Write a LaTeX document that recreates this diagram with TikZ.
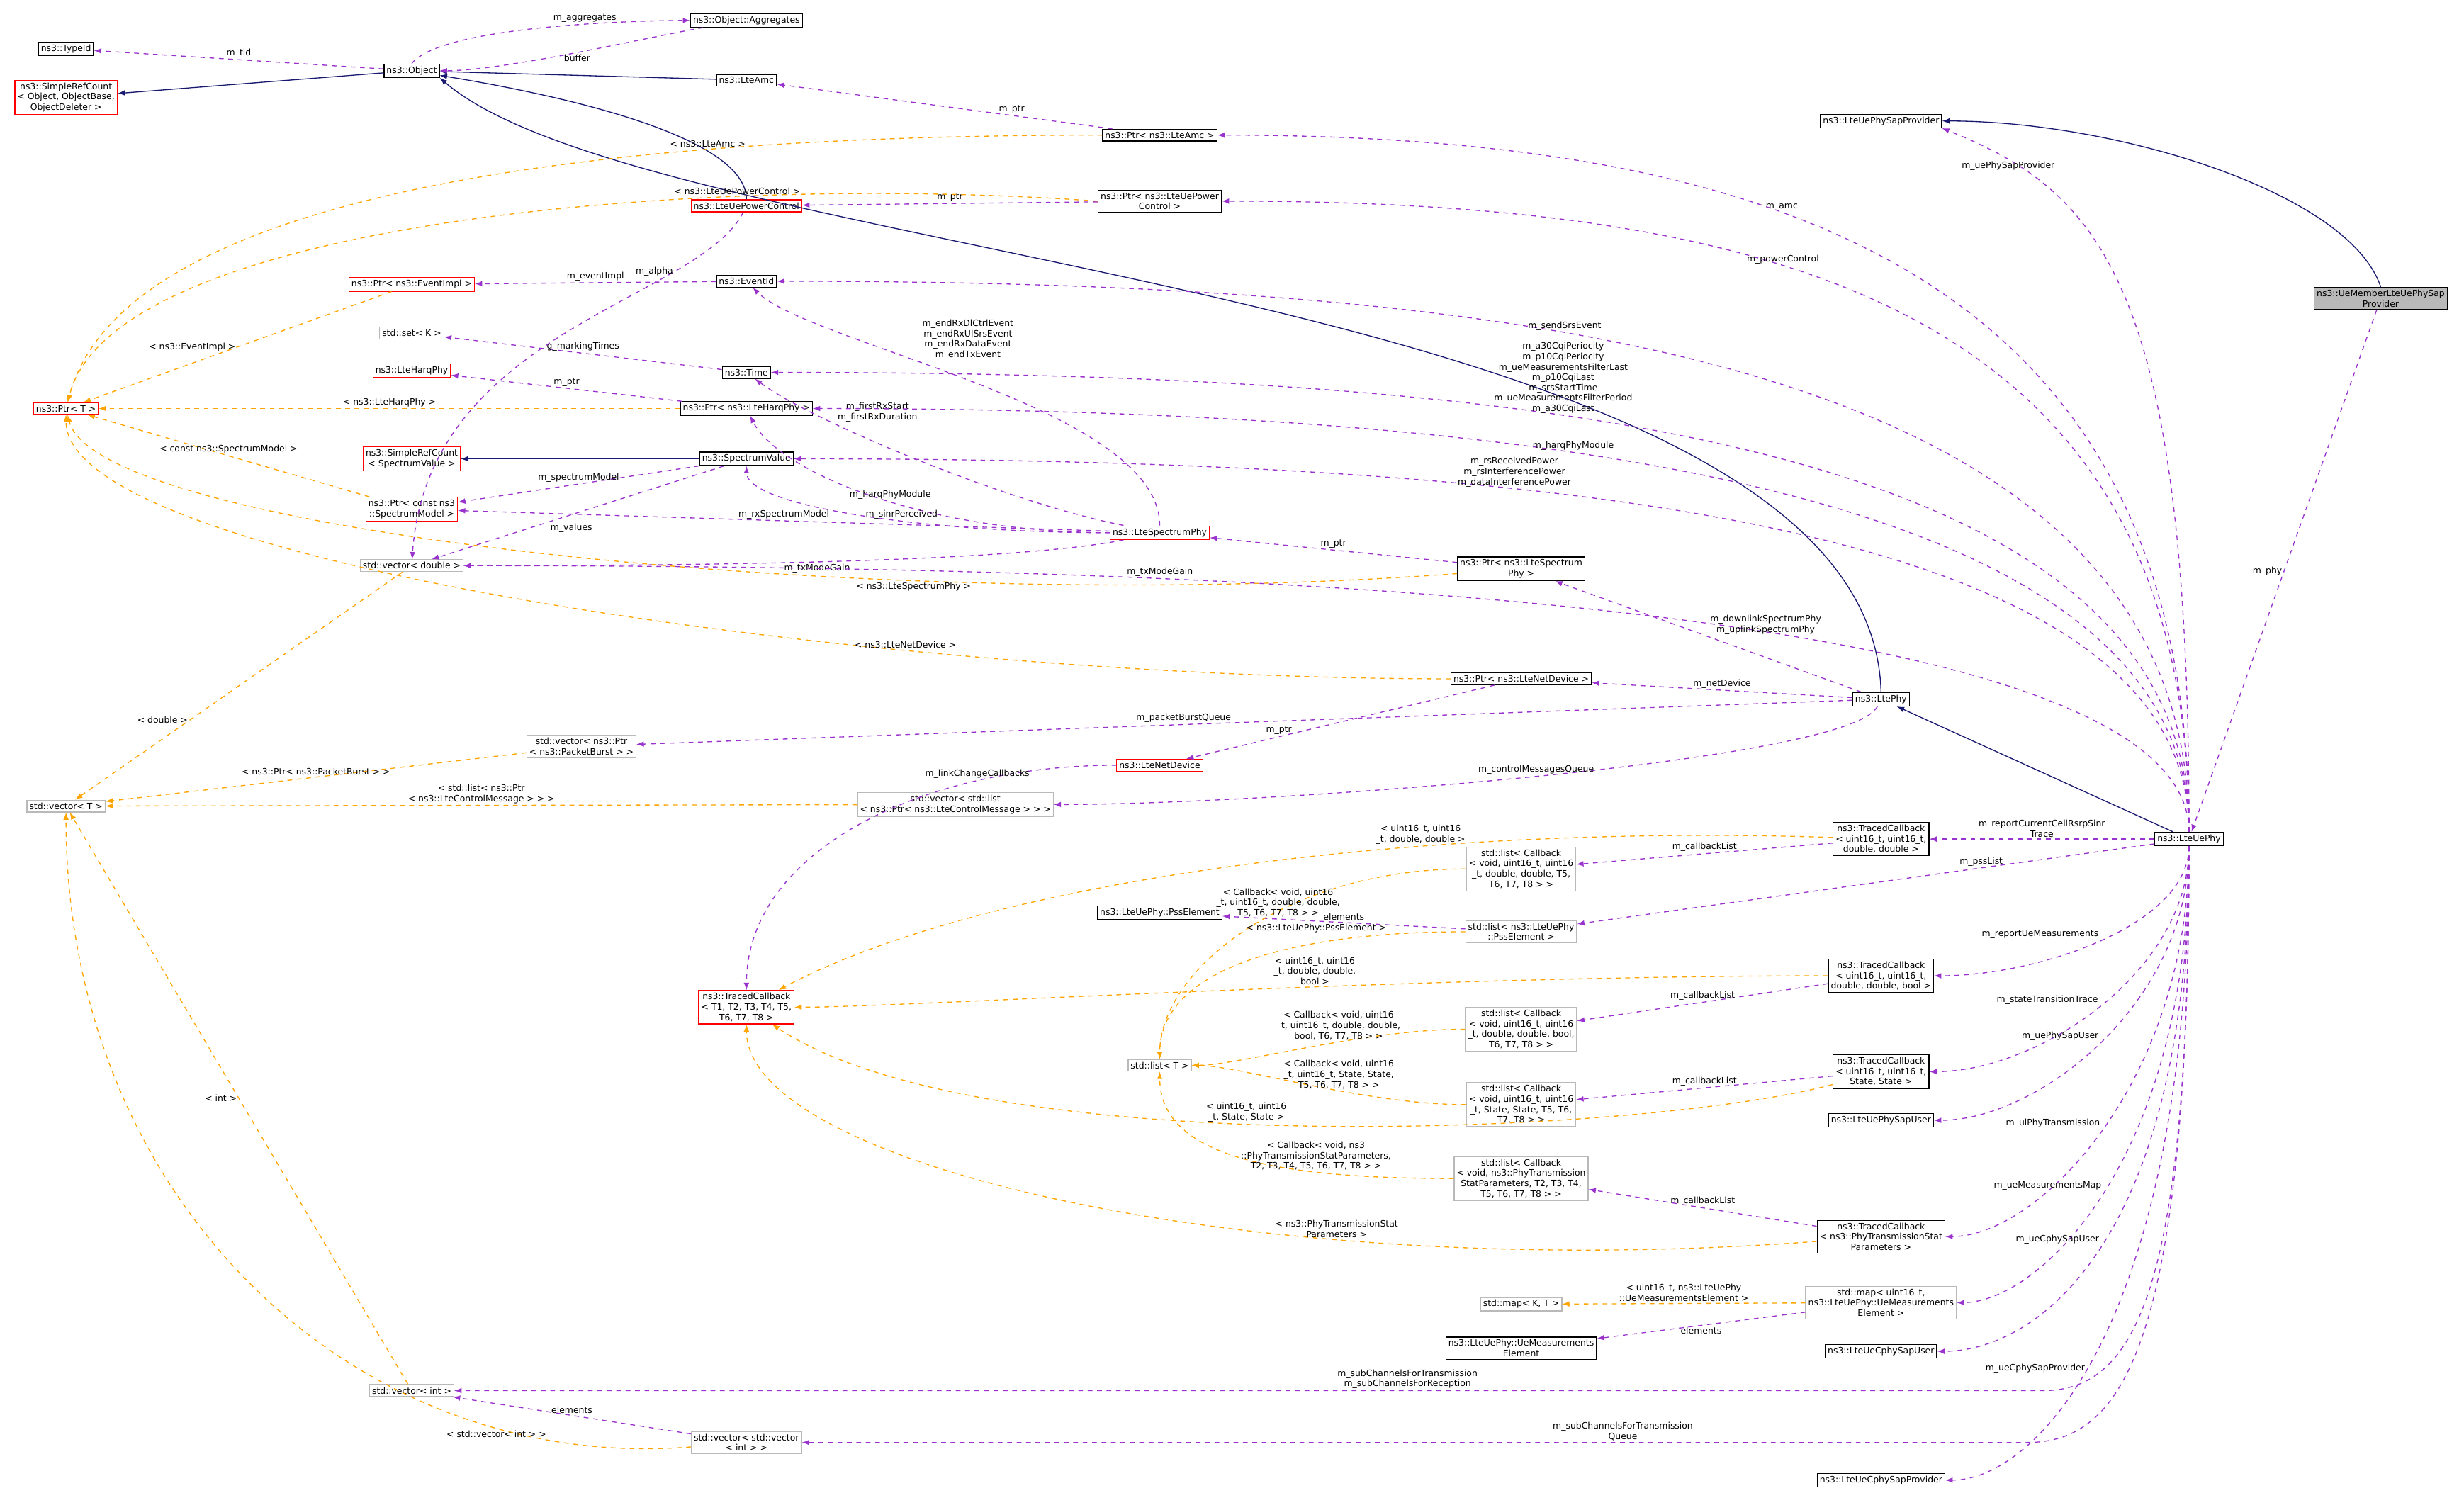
\documentclass[tikz,border=0pt]{standalone}
\usepackage{fontspec}
\setmainfont{DejaVu Sans}
\usetikzlibrary{arrows}
\definecolor{navy}{HTML}{191970}
\definecolor{purp}{HTML}{9A32CD}
\definecolor{orng}{HTML}{FFA500}
\begin{document}
\begin{tikzpicture}[x=1pt,y=-1pt,
    cls/.style={draw, rectangle, align=center, inner sep=1.6pt, font=\fontsize{5.6}{6.6}\selectfont, line width=0.6pt},
    redcls/.style={cls, draw=red},
    graycls/.style={cls, draw=gray!55},
    selcls/.style={cls, fill=gray!55},
    lbl/.style={font=\fontsize{5.6}{6.6}\selectfont, align=center, inner sep=1pt, text=black},
    inh/.style={-latex, navy, line width=0.6pt},
    use/.style={-latex, purp, dashed, line width=0.6pt},
    tpl/.style={-latex, orng, dashed, line width=0.6pt}
]
\useasboundingbox (0,0) rectangle (1568,961);

% Classes, left columns
\node[cls] (typeid) at (42,31) {ns3::TypeId};
\node[redcls] (src) at (42,62) {ns3::SimpleRefCount\\< Object, ObjectBase,\\ ObjectDeleter >};
\node[cls] (obj) at (262,45) {ns3::Object};
\node[cls] (aggr) at (475,13) {ns3::Object::Aggregates};
\node[cls] (lteamc) at (475,51) {ns3::LteAmc};
\node[redcls] (pctrl) at (475,131) {ns3::LteUePowerControl};
\node[redcls] (ptrt) at (42,260) {ns3::Ptr< T >};
\node[redcls] (ptrevent) at (262,181) {ns3::Ptr< ns3::EventImpl >};
\node[cls] (eventid) at (475,179) {ns3::EventId};
\node[graycls] (setk) at (262,212) {std::set< K >};
\node[redcls] (harq) at (262,236) {ns3::LteHarqPhy};
\node[cls] (time) at (475,237) {ns3::Time};
\node[cls] (ptrharq) at (475,260) {ns3::Ptr< ns3::LteHarqPhy >};
\node[redcls] (srcspec) at (262,292) {ns3::SimpleRefCount\\< SpectrumValue >};
\node[cls] (specval) at (475,292) {ns3::SpectrumValue};
\node[redcls] (ptrspecmodel) at (262,324) {ns3::Ptr< const ns3\\::SpectrumModel >};
\node[graycls] (vecdouble) at (262,360) {std::vector< double >};
\node[graycls] (vecburst) at (370,475) {std::vector< ns3::Ptr\\< ns3::PacketBurst > >};
\node[graycls] (vect) at (42,513) {std::vector< T >};
\node[redcls] (tct) at (475,641) {ns3::TracedCallback\\< T1, T2, T3, T4, T5,\\ T6, T7, T8 >};
\node[graycls] (vecint) at (262,885) {std::vector< int >};
\node[graycls] (vecvec) at (475,918) {std::vector< std::vector\\< int > >};

% Classes, middle columns
\node[cls] (ptramc) at (738,86) {ns3::Ptr< ns3::LteAmc >};
\node[cls] (ptrpctrl) at (738,128) {ns3::Ptr< ns3::LteUePower\\Control >};
\node[redcls] (specphy) at (738,339) {ns3::LteSpectrumPhy};
\node[redcls] (netdev) at (738,487) {ns3::LteNetDevice};
\node[graycls] (veclist) at (608,512) {std::vector< std::list\\< ns3::Ptr< ns3::LteControlMessage > > >};
\node[cls] (pss) at (738,581) {ns3::LteUePhy::PssElement};
\node[graycls] (listt) at (738,678) {std::list< T >};
\node[cls] (ptrspecphy) at (968,362) {ns3::Ptr< ns3::LteSpectrum\\Phy >};
\node[cls] (ptrnetdev) at (968,432) {ns3::Ptr< ns3::LteNetDevice >};
\node[graycls] (lcbdd) at (968,553) {std::list< Callback\\< void, uint16\_t, uint16\\\_t, double, double, T5,\\ T6, T7, T8 > >};
\node[graycls] (lpss) at (968,593) {std::list< ns3::LteUePhy\\::PssElement >};
\node[graycls] (lcbbool) at (968,655) {std::list< Callback\\< void, uint16\_t, uint16\\\_t, double, double, bool,\\ T6, T7, T8 > >};
\node[graycls] (lcbstate) at (968,703) {std::list< Callback\\< void, uint16\_t, uint16\\\_t, State, State, T5, T6,\\ T7, T8 > >};
\node[graycls] (lcbstat) at (968,750) {std::list< Callback\\< void, ns3::PhyTransmission\\StatParameters, T2, T3, T4,\\ T5, T6, T7, T8 > >};
\node[graycls] (mapkt) at (968,830) {std::map< K, T >};
\node[cls] (meas) at (968,858) {ns3::LteUePhy::UeMeasurements\\Element};

% Classes, right columns
\node[cls] (sapprov) at (1197,77) {ns3::LteUePhySapProvider};
\node[selcls] (uemember) at (1515,190) {ns3::UeMemberLteUePhySap\\Provider};
\node[cls] (ltephy) at (1197,445) {ns3::LtePhy};
\node[cls] (uephy) at (1393,534) {ns3::LteUePhy};
\node[cls] (tcdd) at (1197,534) {ns3::TracedCallback\\< uint16\_t, uint16\_t,\\ double, double >};
\node[cls] (tcbool) at (1197,621) {ns3::TracedCallback\\< uint16\_t, uint16\_t,\\ double, double, bool >};
\node[cls] (tcstate) at (1197,682) {ns3::TracedCallback\\< uint16\_t, uint16\_t,\\ State, State >};
\node[cls] (sapuser) at (1197,713) {ns3::LteUePhySapUser};
\node[cls] (tcstat) at (1197,787) {ns3::TracedCallback\\< ns3::PhyTransmissionStat\\Parameters >};
\node[graycls] (mapmeas) at (1197,829) {std::map< uint16\_t,\\ ns3::LteUePhy::UeMeasurements\\Element >};
\node[cls] (cphyuser) at (1197,860) {ns3::LteUeCphySapUser};
\node[cls] (cphyprov) at (1197,942) {ns3::LteUeCphySapProvider};
\coordinate (bendint) at (1300,885);
\coordinate (bendvv) at (1290,918);

% Inheritance
\draw[inh] (obj) -- (src);
\draw[inh] (lteamc) -- (obj);
\draw[inh] (pctrl) .. controls +(0,-50) and +(60,10) .. (obj);
\draw[inh] (ltephy.north) .. controls (1190,180) and (420,170) .. (obj.south east);
\draw[inh] (specval) -- (srcspec);
\draw[inh] (uephy) -- (ltephy);
\draw[inh] (uemember.north) .. controls +(-20,-60) and +(150,0) .. (sapprov);

% Members
\draw[use] (obj) -- node[lbl, above] {m\_tid} (typeid);
\draw[use] (obj.north) .. controls +(20,-25) and +(-60,0) .. node[lbl, above, pos=0.6] {m\_aggregates} (aggr);
\draw[use] (aggr) .. controls +(-60,10) and +(60,0) .. node[lbl, pos=0.5, below] {buffer} (obj);
\draw[use] (ptramc) -- node[lbl, above, pos=0.3] {m\_ptr} (lteamc);
\draw[use] (ptrpctrl) -- node[lbl, above] {m\_ptr} (pctrl);
\draw[use] (uephy.north) .. controls +(0,-350) and +(400,0) .. node[lbl, pos=0.62, above] {m\_amc} (ptramc);
\draw[use] (uephy.north) .. controls +(0,-330) and +(400,0) .. node[lbl, pos=0.62, above] {m\_powerControl} (ptrpctrl);
\draw[use] (uephy.north) .. controls +(0,-350) and +(100,40) .. node[lbl, pos=0.85, below] {m\_uePhySapProvider} (sapprov.south east);
\draw[use] (uemember) -- node[lbl, left] {m\_phy} (uephy);
\draw[use] (eventid) -- node[lbl, above] {m\_eventImpl} (ptrevent);
\draw[use] (uephy.north) .. controls +(0,-300) and +(500,0) .. node[lbl, pos=0.62, above] {m\_sendSrsEvent} (eventid);
\draw[use] (specphy) .. controls +(0,-80) and +(40,40) .. node[lbl, pos=0.6, above right] {m\_endRxDlCtrlEvent\\m\_endRxUlSrsEvent\\m\_endRxDataEvent\\m\_endTxEvent} (eventid);
\draw[use] (time) -- node[lbl, above] {g\_markingTimes} (setk);
\draw[use] (uephy.north) .. controls +(0,-250) and +(500,0) .. node[lbl, pos=0.62, above] {m\_a30CqiPeriocity\\m\_p10CqiPeriocity\\m\_ueMeasurementsFilterLast\\m\_p10CqiLast\\m\_srsStartTime\\m\_ueMeasurementsFilterPeriod\\m\_a30CqiLast} (time);
\draw[use] (specphy) .. controls +(-100,-20) and +(40,30) .. node[lbl, pos=0.7, above right] {m\_firstRxStart\\m\_firstRxDuration} (time);
\draw[use] (ptrharq) -- node[lbl, above] {m\_ptr} (harq);
\draw[use] (uephy.north) .. controls +(0,-220) and +(500,0) .. node[lbl, pos=0.62, above] {m\_harqPhyModule} (ptrharq);
\draw[use] (specphy) .. controls +(-150,0) and +(20,40) .. node[lbl, pos=0.45, above] {m\_harqPhyModule} (ptrharq);
\draw[use] (uephy.north) .. controls +(0,-200) and +(500,0) .. node[lbl, pos=0.65, above] {m\_rsReceivedPower\\m\_rsInterferencePower\\m\_dataInterferencePower} (specval);
\draw[use] (specphy) .. controls +(-150,0) and +(0,30) .. node[lbl, pos=0.4, above] {m\_sinrPerceived} (specval);
\draw[use] (specval) -- node[lbl, above] {m\_spectrumModel} (ptrspecmodel);
\draw[use] (specval) -- node[lbl, pos=0.6, below right] {m\_values} (vecdouble);
\draw[use] (pctrl) .. controls +(-30,60) and +(10,-150) .. node[lbl, pos=0.25, left] {m\_alpha} (vecdouble);
\draw[use] (specphy) -- node[lbl, above] {m\_rxSpectrumModel} (ptrspecmodel);
\draw[use] (specphy) .. controls +(-100,20) and +(150,0) .. node[lbl, pos=0.5, below] {m\_txModeGain} (vecdouble);
\draw[use] (uephy.north) .. controls +(0,-150) and +(500,0) .. node[lbl, pos=0.7, above] {m\_txModeGain} (vecdouble);
\draw[use] (ptrspecphy) -- node[lbl, above] {m\_ptr} (specphy);
\draw[use] (ltephy) -- node[lbl, above right, pos=0.5] {m\_downlinkSpectrumPhy\\m\_uplinkSpectrumPhy} (ptrspecphy);
\draw[use] (ltephy) -- node[lbl, above] {m\_netDevice} (ptrnetdev);
\draw[use] (ptrnetdev) -- node[lbl, pos=0.7, above] {m\_ptr} (netdev);
\draw[use] (ltephy) -- node[lbl, pos=0.55, above] {m\_packetBurstQueue} (vecburst);
\draw[use] (ltephy) .. controls +(-20,40) and +(200,0) .. node[lbl, pos=0.5, above] {m\_controlMessagesQueue} (veclist);
\draw[use] (netdev) .. controls +(-150,0) and +(0,-100) .. node[lbl, pos=0.25, above] {m\_linkChangeCallbacks} (tct);
\draw[use] (uephy) -- node[lbl, above] {m\_reportCurrentCellRsrpSinr\\Trace} (tcdd);
\draw[use] (tcdd) -- node[lbl, above] {m\_callbackList} (lcbdd);
\draw[use] (uephy) -- node[lbl, pos=0.3, above] {m\_pssList} (lpss);
\draw[use] (lpss) -- node[lbl, above] {elements} (pss);
\draw[use] (uephy.south) .. controls +(0,50) and +(100,0) .. node[lbl, pos=0.5, above left] {m\_reportUeMeasurements} (tcbool);
\draw[use] (tcbool) -- node[lbl, above] {m\_callbackList} (lcbbool);
\draw[use] (uephy.south) .. controls +(0,80) and +(100,0) .. node[lbl, pos=0.5, above left] {m\_stateTransitionTrace} (tcstate);
\draw[use] (tcstate) -- node[lbl, above] {m\_callbackList} (lcbstate);
\draw[use] (uephy.south) .. controls +(0,100) and +(100,0) .. node[lbl, pos=0.5, above left] {m\_uePhySapUser} (sapuser);
\draw[use] (uephy.south) .. controls +(0,150) and +(100,0) .. node[lbl, pos=0.5, above left] {m\_ulPhyTransmission} (tcstat);
\draw[use] (tcstat) -- node[lbl, above] {m\_callbackList} (lcbstat);
\draw[use] (uephy.south) .. controls +(0,200) and +(100,0) .. node[lbl, pos=0.5, above left] {m\_ueMeasurementsMap} (mapmeas);
\draw[use] (mapmeas) -- node[lbl, below] {elements} (meas);
\draw[use] (uephy.south) .. controls +(0,250) and +(100,0) .. node[lbl, pos=0.5, above left] {m\_ueCphySapUser} (cphyuser);
\draw[use] (uephy.south) .. controls +(0,280) and +(60,0) .. (bendint) -- node[lbl, pos=0.4, above] {m\_subChannelsForTransmission\\m\_subChannelsForReception} (vecint);
\draw[use] (uephy.south) .. controls +(0,320) and +(60,0) .. (bendvv) -- node[lbl, pos=0.33, above] {m\_subChannelsForTransmission\\Queue} (vecvec);
\draw[use] (vecvec) -- node[lbl, above] {elements} (vecint);
\draw[use] (uephy.south) .. controls +(0,300) and +(100,0) .. node[lbl, pos=0.55, left] {m\_ueCphySapProvider} (cphyprov);

% Template instances
\draw[tpl] (ptramc) .. controls +(-300,0) and +(40,-150) .. node[lbl, pos=0.3, above] {< ns3::LteAmc >} (ptrt);
\draw[tpl] (ptrpctrl.west) .. controls +(-250,-18) and +(30,-120) .. node[lbl, pos=0.28, above] {< ns3::LteUePowerControl >} (ptrt);
\draw[tpl] (ptrevent) -- node[lbl, pos=0.5, left] {< ns3::EventImpl >} (ptrt);
\draw[tpl] (ptrharq) -- node[lbl, above] {< ns3::LteHarqPhy >} (ptrt);
\draw[tpl] (ptrspecmodel) -- node[lbl, above] {< const ns3::SpectrumModel >} (ptrt);
\draw[tpl] (ptrspecphy) .. controls +(-400,30) and +(20,80) .. node[lbl, pos=0.3, below] {< ns3::LteSpectrumPhy >} (ptrt);
\draw[tpl] (ptrnetdev) .. controls +(-400,0) and +(0,100) .. node[lbl, pos=0.3, above] {< ns3::LteNetDevice >} (ptrt);
\draw[tpl] (vecdouble) -- node[lbl, pos=0.65, left] {< double >} (vect);
\draw[tpl] (vecburst) -- node[lbl, above] {< ns3::Ptr< ns3::PacketBurst > >} (vect);
\draw[tpl] (veclist) -- node[lbl, above] {< std::list< ns3::Ptr\\< ns3::LteControlMessage > > >} (vect);
\draw[tpl] (vecint) -- node[lbl, pos=0.5, left] {< int >} (vect);
\draw[tpl] (vecvec) .. controls +(-250,20) and +(0,250) .. node[lbl, pos=0.2, below] {< std::vector< int > >} (vect);
\draw[tpl] (tcdd) .. controls +(-300,-10) and +(150,-80) .. node[lbl, pos=0.33, above] {< uint16\_t, uint16\\\_t, double, double >} (tct);
\draw[tpl] (tcbool) .. controls +(-300,0) and +(100,0) .. node[lbl, pos=0.4, above] {< uint16\_t, uint16\\\_t, double, double,\\ bool >} (tct);
\draw[tpl] (tcstate) .. controls +(-150,40) and +(150,100) .. node[lbl, pos=0.55, above] {< uint16\_t, uint16\\\_t, State, State >} (tct);
\draw[tpl] (tcstat) .. controls +(-400,30) and +(0,100) .. node[lbl, pos=0.3, above] {< ns3::PhyTransmissionStat\\Parameters >} (tct);
\draw[tpl] (lcbdd) .. controls +(-150,0) and +(0,-60) .. node[lbl, pos=0.25, below left] {< Callback< void, uint16\\\_t, uint16\_t, double, double,\\ T5, T6, T7, T8 > >} (listt);
\draw[tpl] (lpss) .. controls +(-150,0) and +(0,-60) .. node[lbl, pos=0.15, above left] {< ns3::LteUePhy::PssElement >} (listt);
\draw[tpl] (lcbbool) .. controls +(-100,0) and +(50,0) .. node[lbl, pos=0.4, above] {< Callback< void, uint16\\\_t, uint16\_t, double, double,\\ bool, T6, T7, T8 > >} (listt);
\draw[tpl] (lcbstate) .. controls +(-100,0) and +(50,0) .. node[lbl, pos=0.4, above] {< Callback< void, uint16\\\_t, uint16\_t, State, State,\\ T5, T6, T7, T8 > >} (listt);
\draw[tpl] (lcbstat) .. controls +(-150,0) and +(0,60) .. node[lbl, pos=0.3, above] {< Callback< void, ns3\\::PhyTransmissionStatParameters,\\ T2, T3, T4, T5, T6, T7, T8 > >} (listt);
\draw[tpl] (mapmeas) -- node[lbl, above] {< uint16\_t, ns3::LteUePhy\\::UeMeasurementsElement >} (mapkt);
\end{tikzpicture}
\end{document}
